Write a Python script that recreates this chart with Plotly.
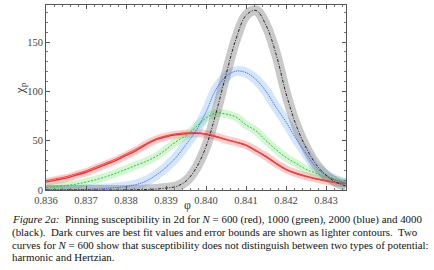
import plotly.graph_objects as go

phi = [0.836, 0.83625, 0.8365, 0.83675, 0.837, 0.83725, 0.8375, 0.83775, 0.838, 0.83825,
       0.8385, 0.83875, 0.839, 0.83925, 0.8395, 0.83975, 0.840, 0.84025, 0.8405, 0.84075,
       0.841, 0.84125, 0.8415, 0.84175, 0.842, 0.84225, 0.8425, 0.84275, 0.843, 0.84325, 0.8435]

chi_600 = [8, 10, 12, 15, 18, 22, 26, 30, 35, 40,
           46, 51, 54, 56, 57, 57.5, 56.5, 54, 51, 48.5,
           45.5, 40, 34, 27, 21, 17, 14, 11.5, 9.5, 7.5, 6.5]
chi_600b = [9.5, 11.5, 13.5, 16.5, 19.5, 23.5, 27.5, 31.5, 36.5, 41.5,
            47, 52, 55, 57, 58, 58, 57, 54.5, 51.5, 48.5,
            45, 39.5, 33.5, 26.5, 20.5, 16.5, 13.5, 11, 9, 7.5, 6.5]
chi_1000 = [2.5, 3.5, 4.5, 6, 8, 10.5, 13.5, 17, 21, 25,
            29, 34, 41, 49, 55, 64, 73, 78, 77, 74,
            66, 60, 50, 41, 33, 27, 21, 17, 13, 10, 7]
chi_2000 = [0, 0.1, 0.2, 0.4, 0.7, 1, 1.6, 2.4, 3.5, 5.5,
            9, 15, 23, 33, 46, 60, 79, 102, 115, 120.5,
            119, 112, 100, 84, 69, 52, 37, 23, 15, 10, 7]
chi_4000 = [0, 0, 0, 0, 0, 0, 0, 0, 0.1, 0.3,
            0.5, 1, 2, 3.5, 9, 22, 44, 78, 117, 153,
            177, 182, 167, 138, 98, 66, 43, 26, 15, 8, 4]

x_ticks = [0.836, 0.837, 0.838, 0.839, 0.840, 0.841, 0.842, 0.843]
x_labels = ["0.836", "0.837", "0.838", "0.839", "0.840", "0.841", "0.842", "0.843"]
y_ticks = [0, 50, 100, 150]

caption = [
    "<i>Figure 2a:</i>  Pinning susceptibility in 2d for <i>N</i> = 600 (red), 1000 (green), 2000 (blue) and 4000",
    "(black).  Dark curves are best fit values and error bounds are shown as lighter contours.  Two",
    "curves for <i>N</i> = 600 show that susceptibility does not distinguish between two types of potential:",
    "harmonic and Hertzian.",
]

fig = go.Figure()

bands = [
    (chi_600, "rgba(240,90,90,0.30)", 8),
    (chi_1000, "rgba(110,225,110,0.30)", 8),
    (chi_2000, "rgba(120,180,240,0.32)", 10),
    (chi_4000, "rgba(120,120,120,0.40)", 10),
]
for ys, col, w in bands:
    fig.add_trace(go.Scatter(x=phi, y=ys, mode="lines", line=dict(color=col, width=w, shape="spline"),
                             hoverinfo="skip", showlegend=False))

lines = [
    (chi_600, "#ff2a2a", 1.4, "solid"),
    (chi_600b, "#ff4040", 1.0, "solid"),
    (chi_1000, "#22cc22", 1.0, "2px,1.5px"),
    (chi_2000, "#3355ff", 0.8, "1.5px,0.8px"),
    (chi_4000, "#111111", 0.9, "3px,1.5px,1px,1.5px"),
]
for ys, col, w, dash in lines:
    fig.add_trace(go.Scatter(x=phi, y=ys, mode="lines",
                             line=dict(color=col, width=w, dash=dash, shape="spline"),
                             showlegend=False))

tickfont = dict(family="Liberation Serif", size=10.5, color="#444")
fig.update_xaxes(range=[0.836, 0.8435], tickvals=x_ticks, ticktext=x_labels, ticks="inside",
                 ticklen=4, tickcolor="#555", showline=True, linecolor="#555", linewidth=1,
                 mirror="ticks", showgrid=False, zeroline=False, tickfont=tickfont, automargin=False,
                 minor=dict(dtick=0.0002, tick0=0.836, ticks="inside", ticklen=2, tickcolor="#777"))
fig.update_yaxes(range=[0, 187.5], tickvals=y_ticks, ticks="inside", ticklen=4, tickcolor="#555",
                 showline=True, linecolor="#555", linewidth=1, mirror="ticks", showgrid=False,
                 zeroline=False, tickfont=tickfont, automargin=False,
                 minor=dict(dtick=10, tick0=0, ticks="inside", ticklen=2, tickcolor="#777"))

fig.add_annotation(text="χ<sub>p</sub>", xref="paper", yref="paper", x=-0.087, y=0.55,
                   xanchor="center", yanchor="middle",
                   showarrow=False, textangle=-90, font=dict(family="Liberation Serif", size=13, color="#333"))
fig.add_annotation(text="φ", xref="paper", yref="paper", x=0.47, y=-0.081,
                   xanchor="center", yanchor="middle",
                   showarrow=False, font=dict(family="Liberation Serif", size=12, color="#333"))

cap_y = [-0.157, -0.229, -0.295, -0.362]
for t, yy in zip(caption, cap_y):
    fig.add_annotation(text=t, xref="paper", yref="paper", x=-0.12, y=yy, xanchor="left",
                       yanchor="middle", showarrow=False, align="left",
                       font=dict(family="Liberation Serif", size=10.9, color="#111"))

fig.update_layout(width=434, height=270, margin=dict(l=46, r=88, t=5, b=80),
                  paper_bgcolor="white", plot_bgcolor="white", hovermode=False)
fig.write_html("out.html", config={"displayModeBar": False, "staticPlot": True},
               post_script="document.body.style.margin='0';document.body.style.padding='0';"
                           "document.body.style.overflow='hidden';")
